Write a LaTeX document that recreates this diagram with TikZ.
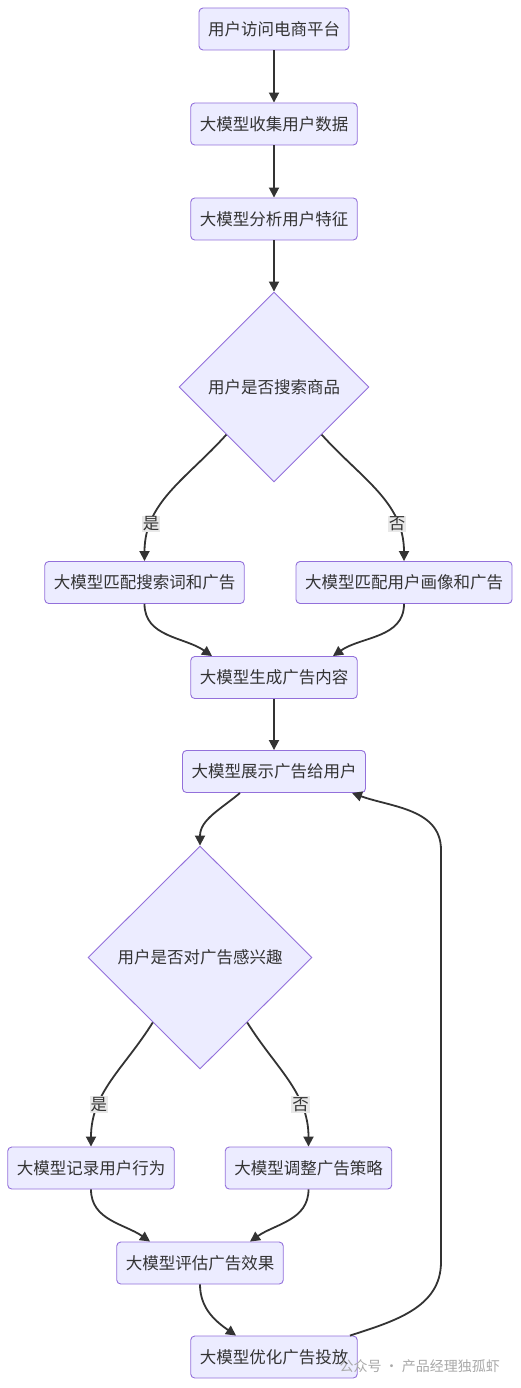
\documentclass[tikz,border=0pt]{standalone}
\usepackage{fontspec}
\setmainfont{Noto Sans CJK SC}
\usepackage{xcolor}
\definecolor{mmfill}{HTML}{ECECFF}
\definecolor{mmedge}{HTML}{9370DB}
\definecolor{mmline}{HTML}{333333}
\definecolor{mmlab}{HTML}{E8E8E8}
\definecolor{mmmark}{HTML}{A8A8A8}
\usetikzlibrary{arrows.meta,shapes.geometric}
\tikzset{
  box/.style={draw=mmedge,line width=0.9pt,rounded corners=4pt,fill=mmfill,align=center,inner xsep=9pt,minimum height=42pt,font=\fontsize{16.5}{19}\selectfont,text=mmline},
  dec/.style={diamond,draw=mmedge,line width=0.9pt,fill=mmfill,align=center,inner sep=0pt,aspect=1,font=\fontsize{16.5}{19}\selectfont,text=mmline},
  lab/.style={fill=mmlab,inner sep=1pt,font=\fontsize{16.5}{19}\selectfont,text=mmline},
  arr/.style={-{Triangle[length=10pt,width=10pt]},line width=1.8pt,draw=mmline},
}

\begin{document}
\begin{tikzpicture}[x=1pt,y=1pt]
  \useasboundingbox (0,0) rectangle (521,-1388);
  % top chain
  \node[box,minimum width=148pt] (visit) at (274,-29) {用户访问电商平台};
  \node[box,minimum width=164pt] (collect) at (274,-124) {大模型收集用户数据};
  \node[box,minimum width=164pt] (analyse) at (274,-219) {大模型分析用户特征};
  \node[dec,minimum width=190pt,minimum height=190pt] (search) at (274,-387) {用户是否搜索商品};
  \node[box,minimum width=199pt] (kwmatch) at (144.5,-582.5) {大模型匹配搜索词和广告};
  \node[box,minimum width=214pt] (pfmatch) at (404,-582.5) {大模型匹配用户画像和广告};
  \node[box,minimum width=164pt] (gen) at (274,-677.5) {大模型生成广告内容};
  \node[box,minimum width=182pt] (show) at (274,-771.5) {大模型展示广告给用户};
  \node[dec,minimum width=224pt,minimum height=223pt] (interest) at (200,-957.5) {用户是否对广告感兴趣};
  \node[box,minimum width=164pt] (record) at (91,-1168) {大模型记录用户行为};
  \node[box,minimum width=165pt] (adjust) at (308.5,-1168) {大模型调整广告策略};
  \node[box,minimum width=166pt] (assess) at (200,-1263) {大模型评估广告效果};
  \node[box,minimum width=164pt] (optim) at (274,-1357) {大模型优化广告投放};
  \coordinate (loopA) at (441,-1262);
  \coordinate (loopB) at (441,-850);

  \draw[arr] (visit) -- (collect);
  \draw[arr] (collect) -- (analyse);
  \draw[arr] (analyse) -- (search);
  \draw[arr] (search.south west) to[out=-132,in=90] node[lab,pos=0.76] {是} (kwmatch.north);
  \draw[arr] (search.south east) to[out=-48,in=90] node[lab,pos=0.76] {否} (pfmatch.north);
  \draw[arr] (kwmatch.south) to[out=-90,in=145] ([xshift=-62pt]gen.north);
  \draw[arr] (pfmatch.south) to[out=-90,in=35] ([xshift=59pt]gen.north);
  \draw[arr] (gen) -- (show);
  \draw[arr] ([xshift=-34pt]show.south) to[out=-140,in=90] (interest.north);
  \draw[arr] ([shift={(9pt,-9pt)}]interest.south west) to[out=-122,in=90] node[lab,pos=0.7] {是} (record.north);
  \draw[arr] ([shift={(-9pt,-9pt)}]interest.south east) to[out=-58,in=90] node[lab,pos=0.7] {否} (adjust.north);
  \draw[arr] (record.south) to[out=-90,in=145] ([xshift=-50pt]assess.north);
  \draw[arr] (adjust.south) to[out=-90,in=35] ([xshift=50pt]assess.north);
  \draw[arr] (assess.south) to[out=-90,in=145] ([xshift=-38pt]optim.north);
  \draw[arr] ([xshift=76pt]optim.north) to[out=18,in=-90] (loopA) -- (loopB)
    to[out=90,in=-20] ([xshift=78pt]show.south);

  \node[text=mmmark,font=\fontsize{14}{16}\selectfont,anchor=west] (mark) at (336,-1366) {公众号 · 产品经理独孤虾};
\end{tikzpicture}
\end{document}
